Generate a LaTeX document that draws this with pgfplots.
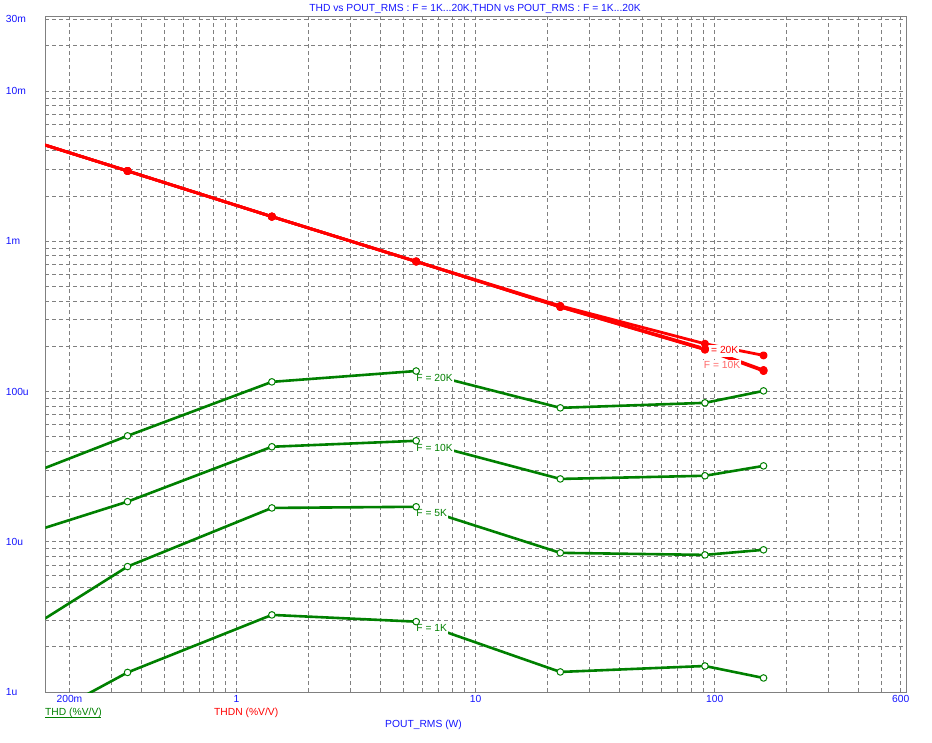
\documentclass[border=0pt]{standalone}
\usepackage{fontspec}
\setmainfont{Liberation Sans}
\usepackage{pgfplots}
\pgfplotsset{compat=1.18}
\definecolor{thdgreen}{RGB}{0,128,0}
\definecolor{thdnred}{RGB}{255,0,0}
\definecolor{lblue}{RGB}{20,20,255}
\definecolor{gridgray}{RGB}{128,128,128}
\begin{document}
\begin{tikzpicture}[font=\fontsize{10.3bp}{12bp}\selectfont]
\useasboundingbox (0,0) rectangle (932bp,743bp);
\begin{axis}[
  at={(45.3bp,51bp)}, anchor=south west,
  scale only axis, width=860.7bp, height=676bp,
  xmode=log, ymode=log,
  xmin=0.1585, xmax=631, ymin=1e-6, ymax=0.0316,
  xtick={0.2,1,10,100,600}, xticklabels={200m,1,10,100,600},
  minor xtick={0.3,0.4,0.5,0.6,0.7,0.8,0.9,2,3,4,5,6,7,8,9,20,30,40,50,60,70,80,90,200,300,400,500},
  ytick={1e-6,1e-5,1e-4,1e-3,1e-2,3e-2}, yticklabels={1u,10u,100u,1m,10m,30m},
  minor ytick={2e-6,3e-6,4e-6,5e-6,6e-6,7e-6,8e-6,9e-6,2e-5,3e-5,4e-5,5e-5,6e-5,7e-5,8e-5,9e-5,2e-4,3e-4,4e-4,5e-4,6e-4,7e-4,8e-4,9e-4,2e-3,3e-3,4e-3,5e-3,6e-3,7e-3,8e-3,9e-3,2e-2},
  grid=both,
  major grid style={gridgray, line width=0.8bp, dash pattern=on 4bp off 3bp},
  minor grid style={gridgray, line width=0.8bp, dash pattern=on 4bp off 3bp},
  major tick length=0, minor tick length=0,
  axis line style={gridgray, line width=1bp},
  ticklabel style={font=\fontsize{10.3bp}{12bp}\selectfont, text=lblue},
  yticklabel style={anchor=west, xshift=-43bp},
  xticklabel style={yshift=0bp},
]
% THDN (red)
\addplot[thdnred, line width=2.8bp, line join=round, mark=*, mark size=2.6bp, mark options={solid}] coordinates {
 (0.0877,5.87e-3) (0.35,2.94e-3) (1.405,1.46e-3) (5.64,0.734e-3) (22.6,0.365e-3) (91,0.190e-3) (160,0.137e-3)};
\addplot[thdnred, line width=2.8bp, line join=round, mark=*, mark size=2.6bp, mark options={solid}] coordinates {
 (0.0877,5.87e-3) (0.35,2.94e-3) (1.405,1.46e-3) (5.64,0.734e-3) (22.6,0.366e-3) (91,0.191e-3) (160,0.138e-3)};
\addplot[thdnred, line width=2.8bp, line join=round, mark=*, mark size=2.6bp, mark options={solid}] coordinates {
 (0.0877,5.87e-3) (0.35,2.94e-3) (1.405,1.46e-3) (5.64,0.734e-3) (22.6,0.368e-3) (91,0.193e-3) (160,0.139e-3)};
\addplot[thdnred, line width=2.8bp, line join=round, mark=*, mark size=2.6bp, mark options={solid}] coordinates {
 (0.0877,5.87e-3) (0.35,2.94e-3) (1.405,1.46e-3) (5.64,0.734e-3) (22.6,0.372e-3) (91,0.208e-3) (160,0.174e-3)};
% THD (green)
\addplot[thdgreen, line width=2.6bp, line join=round, mark=*, mark size=3.3bp, mark options={solid, fill=white, draw=thdgreen, line width=1bp}] coordinates {
 (0.0877,21.5e-6) (0.35,50.7e-6) (1.405,116e-6) (5.64,137e-6) (22.6,77.9e-6) (91,84.1e-6) (160,101e-6)};
\addplot[thdgreen, line width=2.6bp, line join=round, mark=*, mark size=3.3bp, mark options={solid, fill=white, draw=thdgreen, line width=1bp}] coordinates {
 (0.0877,9.2e-6) (0.35,18.5e-6) (1.405,42.9e-6) (5.64,47.0e-6) (22.6,26.2e-6) (91,27.5e-6) (160,32.0e-6)};
\addplot[thdgreen, line width=2.6bp, line join=round, mark=*, mark size=3.3bp, mark options={solid, fill=white, draw=thdgreen, line width=1bp}] coordinates {
 (0.0877,1.71e-6) (0.35,6.84e-6) (1.405,16.8e-6) (5.64,17.1e-6) (22.6,8.44e-6) (91,8.18e-6) (160,8.84e-6)};
\addplot[thdgreen, line width=2.6bp, line join=round, mark=*, mark size=3.3bp, mark options={solid, fill=white, draw=thdgreen, line width=1bp}] coordinates {
 (0.0877,0.41e-6) (0.35,1.35e-6) (1.405,3.26e-6) (5.64,2.94e-6) (22.6,1.36e-6) (91,1.49e-6) (160,1.24e-6)};
% curve labels
\tikzset{lbl/.style={anchor=north west, fill=white, inner sep=1bp, text height=10bp, text depth=2.5bp, xshift=-1bp, yshift=1bp}}
\node[lbl, text=thdgreen] at (axis cs:5.64,137e-6) {F = 20K};
\node[lbl, text=thdgreen] at (axis cs:5.64,47.0e-6) {F = 10K};
\node[lbl, text=thdgreen] at (axis cs:5.64,17.1e-6) {F = 5K};
\node[lbl, text=thdgreen] at (axis cs:5.64,2.94e-6) {F = 1K};
\node[lbl, text=thdnred!60, text height=8bp, inner sep=0.5bp] at (axis cs:90.4,1.59e-4) {F = 10K};
\node[lbl, text=thdnred, text height=8bp, inner sep=0.5bp] at (axis cs:88.7,2.01e-4) {F = 20K};
\end{axis}
\node[text=lblue, inner sep=0] at (475bp,733.7bp) {THD vs POUT\_RMS : F = 1K...20K,THDN vs POUT\_RMS : F = 1K...20K};
\node[text=thdgreen, anchor=west, inner sep=0] at (45bp,30bp) {THD (\%V/V)};
\draw[thdgreen, line width=1bp] (45bp,25.5bp) -- (101bp,25.5bp);
\node[text=thdnred, anchor=west, inner sep=0] at (214bp,30bp) {THDN (\%V/V)};
\node[text=lblue, anchor=west, inner sep=0] at (385bp,18bp) {POUT\_RMS (W)};
\end{tikzpicture}
\end{document}
